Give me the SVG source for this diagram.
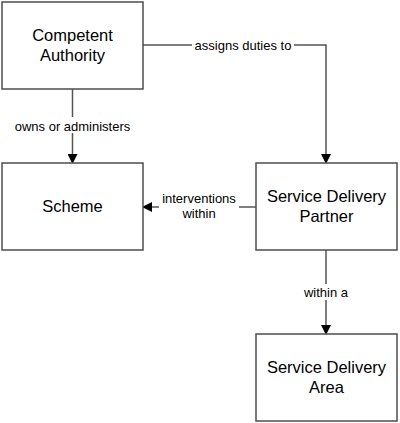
<svg xmlns="http://www.w3.org/2000/svg" width="400" height="423" viewBox="0 0 400 423">
<defs>
<marker id="arr" markerWidth="10" markerHeight="10" refX="9" refY="5" orient="auto" markerUnits="userSpaceOnUse">
<path d="M0,0 L10,5 L0,10 Z" fill="#000"/>
</marker>
<style>
.box{fill:#fff;stroke:#4d4d4d;stroke-width:1.5}
.nt{font-family:"Liberation Sans",Arial,sans-serif;font-size:16.5px;fill:#000;text-anchor:middle}
.edge{fill:none;stroke:#555;stroke-width:1.5;marker-end:url(#arr)}
.el{font-family:"Liberation Sans",Arial,sans-serif;font-size:13px;fill:#000;text-anchor:middle}
.bg{fill:#fff}
</style>
</defs>
<rect width="400" height="423" fill="#fff"/>
<g id="connectors">
<path class="edge" d="M72.5,89 V163"/>
<rect class="bg" x="10" y="117" width="125" height="16"/>
<text class="el" x="72.5" y="131">owns or administers</text>
<path class="edge" d="M143,45 H326 V163"/>
<rect class="bg" x="192" y="37" width="102" height="16"/>
<text class="el" x="243" y="50">assigns duties to</text>
<path class="edge" d="M256,207 H143"/>
<rect class="bg" x="159" y="190" width="80" height="32"/>
<text class="el" x="199" y="203">interventions</text>
<text class="el" x="199" y="218">within</text>
<path class="edge" d="M326,250 V334"/>
<rect class="bg" x="301" y="284" width="50" height="16"/>
<text class="el" x="326" y="297">within a</text>
</g>
<g id="competent-authority">
<rect class="box" x="2" y="2" width="141" height="87"/>
<text class="nt" x="72.5" y="41">Competent</text>
<text class="nt" x="72.5" y="61">Authority</text>
</g>
<g id="scheme">
<rect class="box" x="2" y="163" width="141" height="87"/>
<text class="nt" x="72.5" y="212">Scheme</text>
</g>
<g id="service-delivery-partner">
<rect class="box" x="256" y="163" width="141" height="87"/>
<text class="nt" x="326.5" y="202">Service Delivery</text>
<text class="nt" x="326.5" y="222">Partner</text>
</g>
<g id="service-delivery-area">
<rect class="box" x="256" y="334" width="141" height="87"/>
<text class="nt" x="326.5" y="373">Service Delivery</text>
<text class="nt" x="326.5" y="393">Area</text>
</g>
</svg>
